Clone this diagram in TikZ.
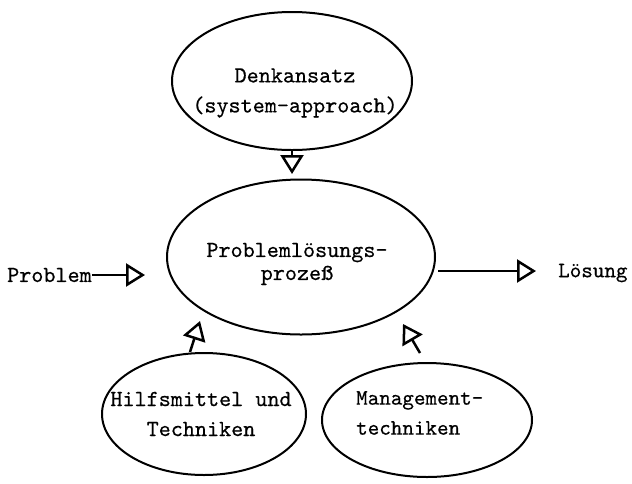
\documentclass[tikz,border=0pt]{standalone}
\usepackage{fontspec}
\newfontfamily\tw{lmmono10-regular.otf}[FakeBold=0.5]
\usetikzlibrary{shapes.geometric,arrows.meta,calc}
\tikzset{
  bubble/.style={ellipse, draw, line width=2pt, inner sep=0pt},
  lbl/.style={font=\tw\fontsize{23}{30}\selectfont, inner sep=0pt, align=center},
  flow/.style={line width=2.5pt, -{Triangle[open, length=19pt, width=23pt, line width=2.5pt]}},
}
\begin{document}
\begin{tikzpicture}[x=1pt,y=-1pt]
\useasboundingbox (0,0) rectangle (632,483);
% ellipses
\node[bubble, minimum width=240pt, minimum height=138pt] (T) at (292,81) {};
\node[bubble, minimum width=268pt, minimum height=155pt] (C) at (301,257) {};
\node[bubble, minimum width=204pt, minimum height=122pt] (BL) at (204,414) {};
\node[bubble, minimum width=210pt, minimum height=114pt] (BR) at (427,420) {};
% texts
\node[lbl] (tT) at (295,93) {Denkansatz\\(system-approach)};
\node[lbl, font=\tw\fontsize{23}{23}\selectfont] (tC) at (297,264) {Problemlösungs-\\prozeß};
\node[lbl] (tBL) at (201,414) {Hilfsmittel und\\Techniken};
\node[lbl, align=left, anchor=west, font=\tw\fontsize{22}{30}\selectfont] (tBR) at (356,413) {Management-\\techniken};
\node[lbl, anchor=west] (P) at (7,275) {Problem};
\node[lbl, anchor=west, font=\tw\fontsize{22}{30}\selectfont] (L) at (558,273) {Lösung};
% connector ends
\coordinate (tTip) at (292,174);
\coordinate (pTip) at (145,275);
\coordinate (lOut) at (438,271);
\coordinate (lTip) at (536,271);
\coordinate (blStart) at (190,352);
\coordinate (blTip) at (200,321);
\coordinate (brStart) at (420,353);
\coordinate (brTip) at (403,324);
% connectors
\draw[flow] (T.south) -- (tTip);
\draw[flow] (P.east) -- (pTip);
\draw[flow] (lOut) -- (lTip);
\draw[flow] (blStart) -- (blTip);
\draw[flow] (brStart) -- (brTip);
\end{tikzpicture}
\end{document}
